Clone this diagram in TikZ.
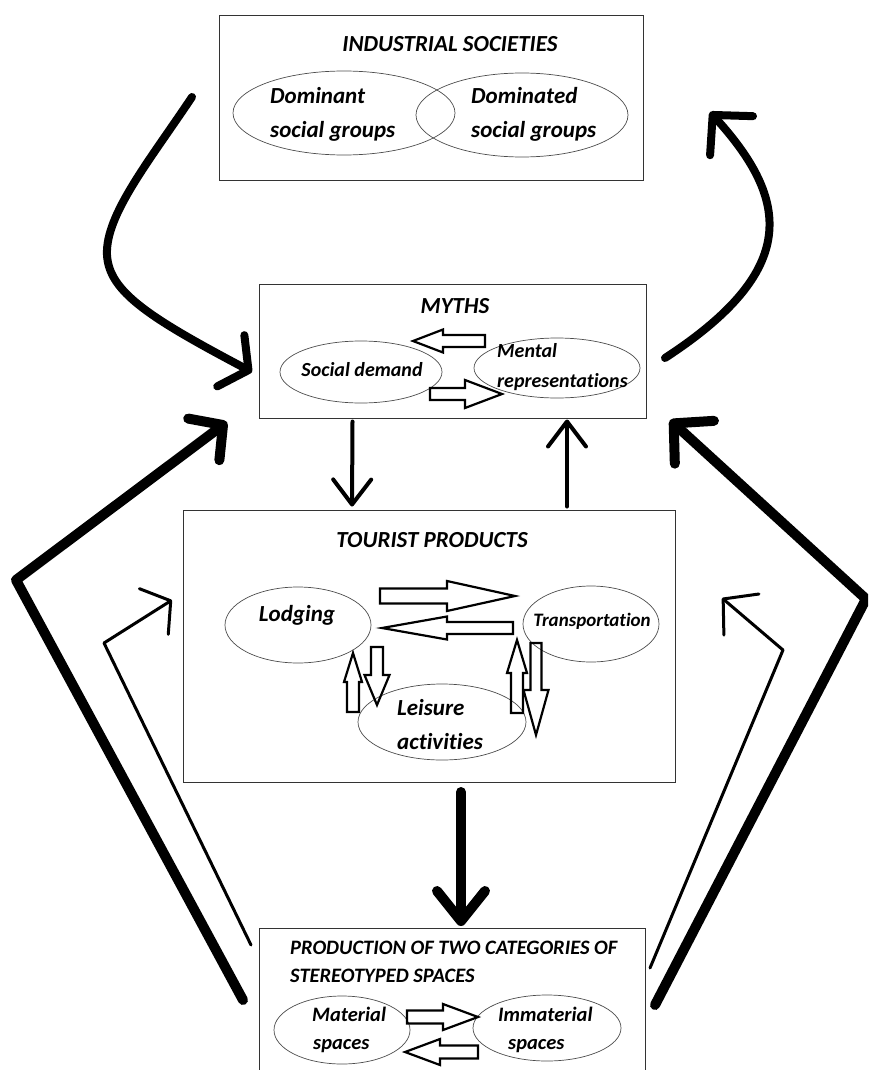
\documentclass[tikz,border=0pt]{standalone}
\usepackage{fontspec}
\setmainfont{Carlito}[Ligatures={NoCommon,NoContextual}]
\usetikzlibrary{shapes.geometric,arrows.meta,calc}

\tikzset{
  box/.style={draw=black!80, line width=1pt, inner sep=0pt},
  oval/.style={ellipse, draw=black!70, line width=0.7pt, inner sep=0pt},
  txt/.style 2 args={font=\fontsize{#1}{#2}\selectfont\bfseries\itshape, inner sep=0pt, align=left},
  heading/.style={txt={23}{26}},
  % hand-drawn style connectors
  heavy/.style={line width=10pt, line cap=round, line join=round},
  curvy/.style={line width=8pt, line cap=round, line join=round},
  medium/.style={line width=4pt, line cap=round, line join=round},
  slim/.style={line width=3pt, line cap=round, line join=round},
  % hollow block arrow pointing along +x: length, shaft half width, head half width, head length
  pics/barrow/.style n args={4}{code={
    \draw[line width=2.2pt, line join=miter]
      (0,#2) -- ({#1-#4},#2) -- ({#1-#4},#3) -- (#1,0) -- ({#1-#4},-#3) -- ({#1-#4},-#2) -- (0,-#2) -- cycle;
  }}
}

\begin{document}
\begin{tikzpicture}[x=1pt, y=-1pt]
\useasboundingbox (0,0) rectangle (868,1070);
\clip (0,0) rectangle (868,1070);

% ---------- INDUSTRIAL SOCIETIES ----------
\node[box, minimum width=424pt, minimum height=164pt] (ind) at (431,98) {};
\node[heading] (indT) at (450,44) {INDUSTRIAL SOCIETIES};
\node[oval, minimum width=222pt, minimum height=84pt] (dom) at (344,113) {};
\node[oval, minimum width=212pt, minimum height=84pt] (domd) at (522,115) {};
\node[txt={23}{34}, anchor=west] (domT) at (270,114) {Dominant\\social groups};
\node[txt={23}{34}, anchor=west] (domdT) at (471,114) {Dominated\\social groups};

% ---------- MYTHS ----------
\node[box, minimum width=387pt, minimum height=134pt] (myths) at (452.5,351) {};
\node[heading] (mythsT) at (455,306) {MYTHS};
\node[oval, minimum width=162pt, minimum height=62pt] (demand) at (361,372) {};
\node[oval, minimum width=166pt, minimum height=60pt] (mental) at (557,368) {};
\node[txt={20}{30}] (demandT) at (362,370) {Social demand};
\node[txt={20}{30}, anchor=west] (mentalT) at (497,367) {Mental\\representations};
\pic[rotate=180] at (485,341) {barrow={72}{6}{11.5}{30}};
\pic at (430,394) {barrow={72}{6}{14}{37}};

% ---------- TOURIST PRODUCTS ----------
\node[box, minimum width=492pt, minimum height=272pt] (tour) at (429,646) {};
\node[heading] (tourT) at (432,540) {TOURIST PRODUCTS};
\node[oval, minimum width=146pt, minimum height=76pt] (lodg) at (298,625) {};
\node[oval, minimum width=136pt, minimum height=76pt] (trans) at (591,624) {};
\node[oval, minimum width=168pt, minimum height=76pt] (leis) at (442,722) {};
\node[txt={23}{34}] (lodgT) at (297,615) {Lodging};
\node[txt={19}{28}] (transT) at (592,621) {Transportation};
\node[txt={23}{34}, anchor=west] (leisT) at (397,725) {Leisure\\activities};
\pic at (380,596) {barrow={135}{7.5}{15}{68}};
\pic[rotate=180] at (513,628) {barrow={131}{6}{11.5}{65}};
\pic[rotate=90] at (353,712) {barrow={59}{6}{9}{29}};
\pic[rotate=-90] at (377,647) {barrow={58}{6}{12.5}{30}};
\pic[rotate=90] at (517,713) {barrow={73}{6}{10}{33}};
\pic[rotate=-90] at (536,643) {barrow={92}{5.5}{12.5}{45}};

% ---------- STEREOTYPED SPACES ----------
\node[box, minimum width=386pt, minimum height=160pt] (prod) at (452,1008) {};
\node[txt={20.5}{28}, anchor=west] (prodT) at (290,962) {PRODUCTION OF TWO CATEGORIES OF\\STEREOTYPED SPACES};
\node[oval, minimum width=136pt, minimum height=68pt] (mat) at (342,1030) {};
\node[oval, minimum width=148pt, minimum height=66pt] (immat) at (547,1028) {};
\node[txt={20.5}{28}, anchor=west] (matT) at (312,1030) {Material\\\hspace{1pt}spaces};
\node[txt={20.5}{28}, anchor=west] (immatT) at (498,1030) {Immaterial\\\hspace{10pt}spaces};
\pic at (407,1017) {barrow={71}{6.5}{13}{35}};
\pic[rotate=180] at (478,1052) {barrow={73}{6.5}{13}{35}};

% ---------- connector end points ----------
\coordinate (indOut) at (192,97);
\coordinate (mythsInL) at (252,372);
\coordinate (mythsOutR) at (665,358);
\coordinate (indIn) at (710,112);
\coordinate (mythsDownS) at ($(myths.south)+(-100,3)$);
\coordinate (tourDownE) at ($(tour.north)+(-77,-3)$);
\coordinate (tourUpS) at ($(tour.north)+(138,-3)$);
\coordinate (mythsUpE) at ($(myths.south)+(114.5,1)$);
\coordinate (tourBigS) at (461,792);
\coordinate (prodBigE) at (461,926);
\coordinate (prodOutL) at (243,1000);
\coordinate (bendL) at (16,580);
\coordinate (mythsInLL) at (227,422);
\coordinate (prodOutR) at (655,1005);
\coordinate (bendR) at (866,599);
\coordinate (mythsInRR) at (670,420);
\coordinate (prodThinL) at (251,945);
\coordinate (bendTL) at (104,643);
\coordinate (tourInL) at (172,600);
\coordinate (prodThinR) at (650,968);
\coordinate (bendTR) at (783,650);
\coordinate (tourInR) at (722,598);

% ---------- connectors ----------
\draw[curvy, -{Straight Barb[length=20pt, width=58pt, round]}]
  (indOut) .. controls (150,160) and (105,215) .. (107,255)
           .. controls (109,292) and (150,318) .. (mythsInL);
\draw[curvy, -{Straight Barb[length=28pt, width=58pt, round]}]
  (mythsOutR) .. controls (800,270) and (790,200) .. (indIn);
\draw[medium, -{Straight Barb[length=25pt, width=38pt, round]}] (mythsDownS) -- (tourDownE);
\draw[medium, -{Straight Barb[length=25pt, width=38pt, round]}] (tourUpS) -- (mythsUpE);
\draw[heavy, -{Straight Barb[length=30pt, width=48pt, round]}] (tourBigS) -- (prodBigE);
\draw[heavy, -{Straight Barb[length=24pt, width=52pt, round]}] (prodOutL) -- (bendL) -- (mythsInLL);
\draw[heavy, -{Straight Barb[length=28pt, width=58pt, round]}] (prodOutR) -- (bendR) -- (mythsInRR);
\draw[slim, -{Straight Barb[length=20pt, width=54pt, round]}] (prodThinL) -- (bendTL) -- (tourInL);
\draw[slim, -{Straight Barb[length=24pt, width=54pt, round]}] (prodThinR) -- (bendTR) -- (tourInR);
\end{tikzpicture}
\end{document}
